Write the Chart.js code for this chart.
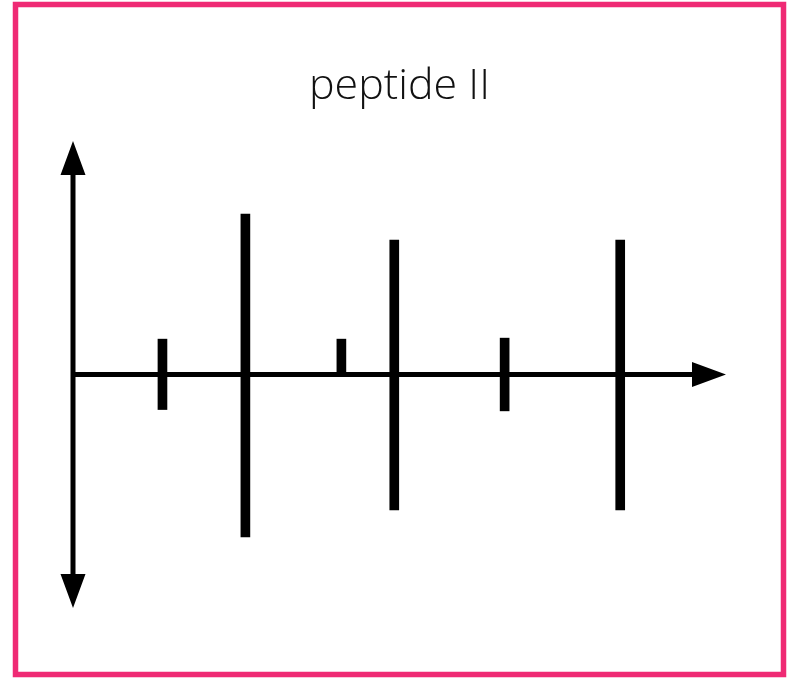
<!DOCTYPE html>
<html>
<head>
<meta charset="utf-8">
<script src="https://cdn.jsdelivr.net/npm/chart.js@4"></script>
<style>
  html, body { margin: 0; padding: 0; background: #fff; }
  #wrap { position: relative; width: 788px; height: 678px; }
</style>
</head>
<body>
<div id="wrap"><canvas id="chart" width="788" height="678"></canvas></div>
<script>
// stick positions along the x axis
const positions = [13.7, 26.4, 41.1, 49.2, 66.1, 83.8];
// lower and upper end of each stick
const lows = [-1.05, -4.87, 0, -4.06, -1.09, -4.06];
const highs = [1.06, 4.81, 1.06, 4.03, 1.09, 4.03];

const xRange = [0, 100];
const yRange = [-7, 7];

// axes with arrow heads, drawn from the scales
const arrowAxes = {
  id: 'arrowAxes',
  beforeDatasetsDraw(chart) {
    const { ctx, scales } = chart;
    const x = scales.x, y = scales.y;
    const x0 = x.getPixelForValue(0);
    const y0 = y.getPixelForValue(0);
    const xEnd = x.getPixelForValue(xRange[1]);
    const yTop = y.getPixelForValue(yRange[1]);
    const yBot = y.getPixelForValue(yRange[0]);
    const len = 34, half = 12.5;
    ctx.save();
    ctx.strokeStyle = '#000';
    ctx.fillStyle = '#000';
    ctx.lineWidth = 5;
    ctx.beginPath();
    ctx.moveTo(x0, yTop + len - 2);
    ctx.lineTo(x0, yBot - len + 2);
    ctx.moveTo(x0, y0);
    ctx.lineTo(xEnd - len + 2, y0);
    ctx.stroke();
    // arrow heads
    ctx.beginPath();
    ctx.moveTo(x0, yTop);
    ctx.lineTo(x0 - half, yTop + len);
    ctx.lineTo(x0 + half, yTop + len);
    ctx.closePath();
    ctx.moveTo(x0, yBot);
    ctx.lineTo(x0 - half, yBot - len);
    ctx.lineTo(x0 + half, yBot - len);
    ctx.closePath();
    ctx.moveTo(xEnd, y0);
    ctx.lineTo(xEnd - len, y0 - half);
    ctx.lineTo(xEnd - len, y0 + half);
    ctx.closePath();
    ctx.fill();
    ctx.restore();
  },
  afterDraw(chart) {
    // pink frame
    const ctx = chart.ctx;
    ctx.save();
    ctx.strokeStyle = '#ef2a74';
    ctx.lineWidth = 5.5;
    ctx.strokeRect(15.5, 4.5, 768, 670);
    ctx.restore();
  }
};

const ctx = document.getElementById('chart').getContext('2d');
new Chart(ctx, {
  type: 'bar',
  data: {
    datasets: [{
      data: positions.map((p, i) => ({ x: p, y: [lows[i], highs[i]] })),
      backgroundColor: '#000',
      borderWidth: 0,
      borderSkipped: false,
      barThickness: 9,
    }],
  },
  options: {
    responsive: false,
    animation: false,
    layout: { padding: { left: 73, right: 62, top: 0, bottom: 70 } },
    plugins: {
      legend: { display: false },
      tooltip: { enabled: false },
      title: {
        display: true,
        text: 'peptide II',
        color: '#111',
        font: { family: 'Open Sans', size: 43, weight: '300', lineHeight: 1.2 },
        padding: { top: 61, bottom: 28.4 },
      },
    },
    scales: {
      x: {
        type: 'linear',
        min: xRange[0],
        max: xRange[1],
        offset: false,
        display: false,
      },
      y: {
        min: yRange[0],
        max: yRange[1],
        display: false,
      },
    },
  },
  plugins: [arrowAxes],
});
</script>
</body>
</html>
